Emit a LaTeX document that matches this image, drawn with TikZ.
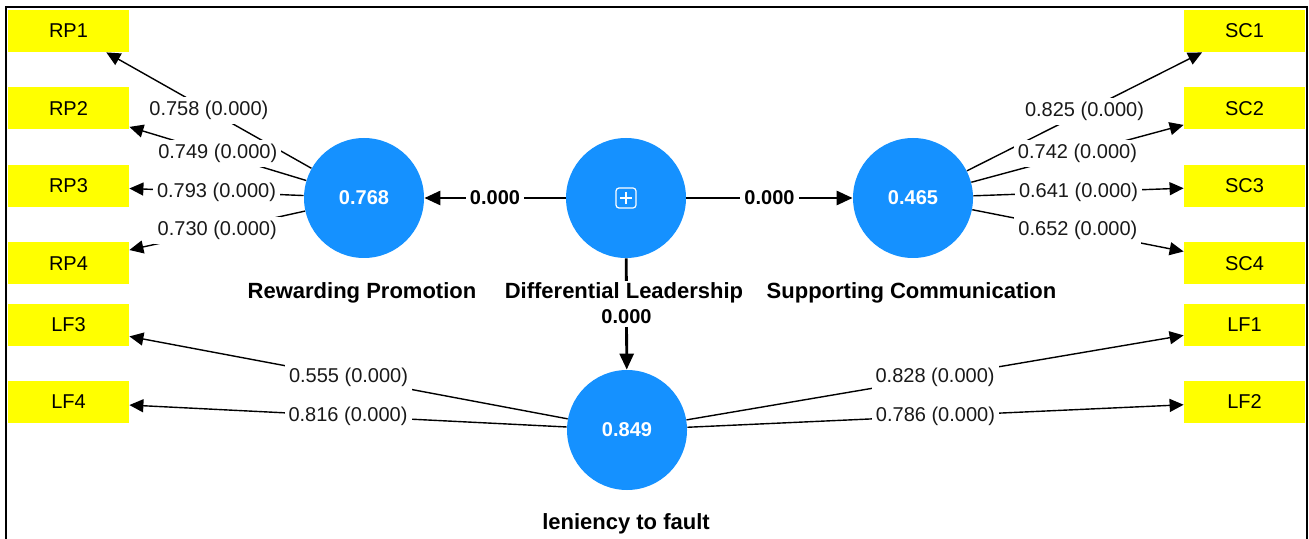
\documentclass[tikz,border=0pt]{standalone}
\usepackage{fontspec}
\setmainfont{Liberation Sans}
\usepackage{tikz}
\usetikzlibrary{arrows.meta,positioning}
\definecolor{plsBlue}{HTML}{1591FF}
\definecolor{plsYellow}{HTML}{FFFF00}

\tikzset{
  latent/.style={circle,fill=plsBlue,minimum size=60pt,inner sep=0pt,
                 text=white,font=\bfseries\fontsize{10}{12}\selectfont},
  indicator/.style={rectangle,fill=plsYellow,minimum width=60.5pt,minimum height=21pt,
                    inner sep=0pt,font=\fontsize{10}{12}\selectfont},
  latname/.style={fill=white,inner sep=1pt,font=\bfseries\fontsize{11}{13}\selectfont},
  loading/.style={line width=0.7pt,-{Triangle[length=7pt,width=6.5pt]}},
  pathcoef/.style={line width=1.4pt,-{Triangle[length=8pt,width=7pt]}},
  wlabel/.style={fill=white,inner sep=2pt,text=black!90,font=\fontsize{10}{12}\selectfont},
  blabel/.style={fill=white,inner sep=2pt,font=\bfseries\fontsize{10}{12}\selectfont},
}

\begin{document}
\begin{tikzpicture}[x=0.5pt,y=-0.5pt]
  \useasboundingbox (0,0) rectangle (1309,539);
  % frame (open at the bottom)
  \draw[line width=1pt] (6,539) -- (6,7) -- (1307,7) -- (1307,539);

  % latent variables
  \node[latent] (RP) at (364,198) {0.768};
  \node[latent] (DL) at (626,198) {};
  \node[latent] (SC) at (913,198) {0.465};
  \node[latent] (LF) at (627,430) {0.849};
  % expand icon on the second-order construct
  \draw[white,line width=0.6pt,rounded corners=1.5pt]
    ([shift={(-10,-10)}]DL.center) rectangle ([shift={(10,10)}]DL.center);
  \draw[white,line width=0.6pt]
    ([shift={(-6,0)}]DL.center) -- ([shift={(6,0)}]DL.center)
    ([shift={(0,-6)}]DL.center) -- ([shift={(0,6)}]DL.center);

  % indicators
  \foreach \i/\y in {1/31,2/108.5,3/186,4/263.5}{
    \node[indicator] (RP\i) at (68.5,\y) {RP\i};
    \node[indicator] (SC\i) at (1244.5,\y) {SC\i};
  }
  \node[indicator] (LF3) at (68.5,325) {LF3};
  \node[indicator] (LF4) at (68.5,402) {LF4};
  \node[indicator] (LF1) at (1244.5,325) {LF1};
  \node[indicator] (LF2) at (1244.5,402) {LF2};

  % outer loadings
  \foreach \i/\w in {1/0.758,2/0.749,3/0.793,4/0.730}
    \draw[loading] (RP) -- node[wlabel] {\w{} (0.000)} (RP\i);
  \foreach \i/\w in {1/0.825,2/0.742,3/0.641,4/0.652}
    \draw[loading] (SC) -- node[wlabel] {\w{} (0.000)} (SC\i);
  \draw[loading] (LF) -- node[wlabel] {0.555 (0.000)} (LF3);
  \draw[loading] (LF) -- node[wlabel] {0.816 (0.000)} (LF4);
  \draw[loading] (LF) -- node[wlabel] {0.828 (0.000)} (LF1);
  \draw[loading] (LF) -- node[wlabel] {0.786 (0.000)} (LF2);

  % path coefficients
  \draw[pathcoef] (DL) -- node[blabel] {0.000} (RP);
  \draw[pathcoef] (DL) -- node[blabel] {0.000} (SC);
  \draw[pathcoef] (DL) -- node[blabel,pos=0.52] {0.000} (LF);

  % construct names
  \node[latname] (RPname) at (362,293) {Rewarding Promotion};
  \node[latname] (DLname) at (624,293) {Differential Leadership};
  \node[latname] (SCname) at (911.5,293) {Supporting Communication};
  \node[latname] (LFname) at (626,524) {leniency to fault};
\end{tikzpicture}
\end{document}
